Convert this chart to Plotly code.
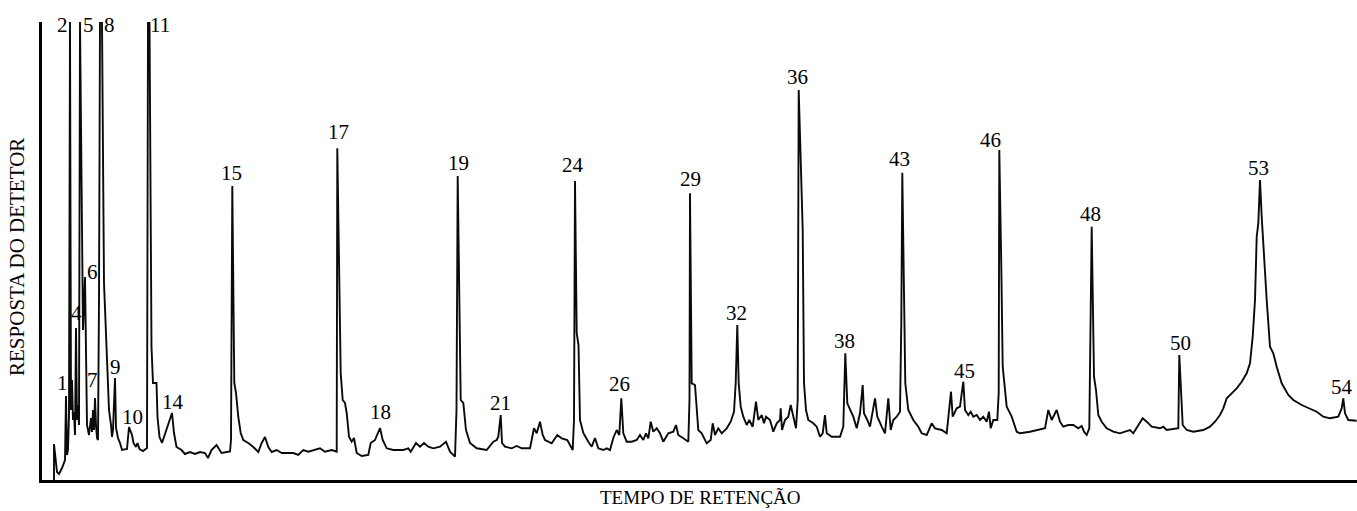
import plotly.graph_objects as go

# Retention time (arbitrary units) and detector response (arbitrary units)
tempo = [
    12, 12, 15, 17, 20, 23, 24, 25, 26, 27, 28, 29, 30, 31, 32, 33, 34, 35, 36, 37,
    38, 40, 41, 43, 44, 45, 47, 49, 50, 51, 52, 53, 54, 55, 56, 57, 58, 60, 62, 64,
    65.5, 67, 69, 70, 71, 73, 74, 76, 78, 80, 85, 87, 90, 91.5, 94, 95.5, 97.5, 101, 105, 106,
    107.5, 109.5, 111, 114.5, 115.5, 117.5, 120, 124.5, 130, 132, 134.5, 139.5, 143, 148, 153, 158,
    163, 166, 169.5, 174.5, 178, 179.5, 188, 189, 190.3, 191.5, 192.3, 194, 196.3, 198.7, 201.3,
    206.3, 211.3, 216.3, 219.7, 223, 226.3, 229.7, 234.7, 239.7, 244.7, 251.3, 256.3, 261.3, 266.3,
    273, 278, 283, 289.7, 294.7, 295.3, 297.3, 298.7, 300.7, 303, 304.7, 307, 309.7, 312, 314.7,
    319.7, 326.3, 328.7, 333, 338, 340.7, 344.7, 351.3, 361.3, 366.3, 368.7, 374, 378, 382, 386.3,
    391.3, 398, 404, 408, 413, 414.5, 415.7, 417.3, 418.7, 421.3, 424, 428, 434.7, 444.7, 451.3,
    454.7, 456.3, 458.7, 460, 463, 469.7, 474.7, 479.7, 488, 492, 494.7, 498, 500.7, 503, 506.3,
    509.7, 515.3, 519.7, 525.3, 530.7, 532, 533, 534.7, 536.5, 538, 541.3, 546.3, 549.7, 553, 556.3,
    561.3, 564.7, 568, 571.3, 574.7, 577.3, 579.3, 581.3, 584.7, 589.7, 594.7, 598, 601.3, 604,
    606.3, 608.7, 611.3, 614.7, 618, 621.3, 626.3, 631.3, 634, 636.3, 641.3, 646.3, 647.5, 648,
    649.7, 653, 656.3, 659.7, 664.7, 668.7, 670.7, 673, 676.3, 679.7, 684.7, 688.7, 692, 693.7,
    695.3, 696.7, 698.7, 701.3, 704.7, 707.3, 710.7, 714, 716.3, 719.7, 722, 724, 728, 731.3, 734.7,
    738, 738.7, 740, 743, 746.3, 748.7, 751.3, 754, 755.7, 756.7, 760.7, 762, 764, 766.3, 771.3,
    774.7, 778, 780.7, 783, 784.7, 789.7, 798, 801.3, 803.3, 805.3, 807.3, 811.3, 814.7, 818, 820.7,
    822, 825.3, 828, 833, 835.3, 839.7, 843, 846.3, 848.7, 851.3, 854.7, 858, 859.3, 860.3, 862.3,
    863.3, 866.3, 871.3, 876.3, 879.7, 884.7, 889.7, 893, 899.7, 904.7, 906.3, 909, 910.7, 914.7,
    918, 921.3, 923, 926.3, 928.7, 931.3, 934.7, 938, 941.3, 944.7, 947, 948.7, 951.3, 955.3, 956.7,
    957.3, 959.3, 960.7, 964.7, 969.7, 974.7, 978, 988, 994.7, 1003, 1006.3, 1009.7, 1014.7, 1018,
    1021.3, 1026.3, 1031.3, 1036.3, 1039.7, 1042, 1044.7, 1047.3, 1049.7, 1050.7, 1052, 1054, 1056.3,
    1059.7, 1064.7, 1071.3, 1078, 1083, 1088, 1091.3, 1096.3, 1100.7, 1104.7, 1109.7, 1118, 1121.3,
    1124.7, 1131.3, 1136.3, 1137.3, 1140.7, 1144.7, 1151.3, 1161.3, 1168, 1173, 1178, 1181.3, 1184.7,
    1189.7, 1194.7, 1199.7, 1204.7, 1208, 1210.7, 1213, 1214.7, 1216.3, 1218, 1219.7, 1222, 1224.7,
    1228, 1231.3, 1234.7, 1239.7, 1246.3, 1251.3, 1259.7, 1268, 1274.7, 1281.3, 1288, 1296.3, 1299.7,
    1301.3, 1303, 1306.3, 1314.7,
]
resposta = [
    0, 36, 8, 6, 12, 20, 84, 25, 30, 65, 458, 70, 100, 60, 68, 45, 152, 60, 75, 55,
    458, 190, 150, 203, 100, 55, 45, 62, 48, 70, 50, 82, 55, 42, 40, 180, 458, 458, 197, 147,
    103, 70, 55, 43, 50, 102, 52, 42, 37, 30, 31, 53, 45, 37, 33, 37, 31, 29, 32, 458,
    458, 133, 97, 97, 63, 43, 37, 50, 67, 47, 33, 30, 26, 28, 26, 28,
    27, 22, 30, 35, 30, 27, 28.5, 40, 294, 180, 97, 87, 63, 47, 40,
    37, 33, 28, 37, 43, 33, 28, 30, 27, 27.3, 27, 25, 30, 28.3,
    30, 31.7, 28.3, 30, 28.3, 331.7, 200, 107, 80, 77, 67, 43.3, 38.3, 42, 27,
    24, 25, 37, 40, 52, 40, 31.7, 30, 30, 31.7, 28.3, 37, 33.3, 37, 33.3,
    31.7, 33.3, 38.3, 28.3, 23.3, 70, 304, 207, 80, 77, 50, 37, 31.7, 30, 38.3,
    40, 43.3, 65, 37, 33.3, 31.7, 34, 31.7, 31.7, 51.7, 46.7, 58.3, 45, 40, 38.3,
    36.7, 45, 41.7, 40, 30, 60, 299, 147, 135, 60, 47, 38.3, 33.3, 42, 31.7,
    30, 31.7, 30, 42, 50, 45, 81.7, 46.7, 38.3, 38.3, 40, 45, 40, 46.7,
    41.7, 58.3, 48.3, 51.7, 46.7, 38.3, 46.7, 48.3, 55, 45, 41.7, 38.3, 80, 286.7,
    96.7, 95, 50, 46.7, 36.7, 40, 56.7, 45, 51.7, 46.7, 51.7, 58.3, 68.3, 96.7,
    155, 96.7, 73.3, 63.3, 55, 60, 53.3, 78.3, 60, 65, 56.7, 63.3, 60, 48.3, 56.7,
    60, 71.7, 50, 60, 63.3, 75, 63.3, 51.7, 80, 390, 250, 97, 70, 60, 56.7,
    53.3, 43.3, 46.7, 65, 46.7, 43.3, 43.3, 53.3, 126.7, 76.7, 71.7, 63.3, 51.7, 66.7, 95,
    66.7, 60, 53.3, 81.7, 63.3, 53.3, 46.7, 81.7, 50, 60, 63.3, 68.3, 156.7, 307.3, 173.3,
    96.7, 70, 60, 53.3, 46.7, 45, 56.7, 51.7, 50, 46.7, 63.3, 88.3, 63.3, 71.7,
    73.3, 98.3, 70, 65, 68.3, 63.3, 65, 60, 63.3, 58.3, 68.3, 51.7, 60, 60, 86.7,
    330, 213.3, 113.3, 73.3, 63.3, 48.3, 46.7, 48.3, 50, 51.7, 70, 60, 70, 58.3,
    53.3, 55, 55, 51.7, 54, 48.3, 45, 51.7, 253.3, 180, 103.3, 90, 65,
    58.3, 51.7, 48.3, 46.7, 48.3, 50, 46.7, 55, 61.7, 58.3, 53.3, 51.7, 53.3,
    50, 50.7, 51.7, 125, 55, 50, 48.3, 50, 53.3, 58.3, 65, 71.7, 81.7,
    86.7, 91.7, 98.3, 106.7, 116.7, 143.3, 180, 243.3, 256.7, 300, 263.3, 220, 180,
    133.3, 126.7, 113.3, 96.7, 85, 80, 75, 71.7, 68.3, 63.3, 61.7, 63.3, 71.7,
    81.7, 66.7, 60, 59.3,
]

# Peak numbers and label positions (tempo, resposta)
picos = ["1", "2", "4", "5", "6", "7", "8", "9", "10", "11", "14", "15", "17", "18", "19",
         "21", "24", "26", "29", "32", "36", "38", "43", "45", "46", "48", "50", "53", "54"]
pico_tempo = [20.7, 20.3, 34.7, 46.3, 50.3, 50.7, 67, 73, 90.7, 118, 130.7, 189, 296.3, 338, 416.3,
              458, 530.7, 577.3, 648, 694.7, 755.3, 802.3, 857.3, 922, 948, 1048, 1138, 1216.3, 1300.3]
pico_resposta = [97, 455, 167, 455, 208.3, 100, 455, 113.3, 63.3, 455, 78.3, 307.3, 347.7, 68.3, 317.3,
                 77.3, 315, 96, 301, 166.7, 402.7, 139.3, 320.7, 109.3, 340, 266, 136.7, 311.7, 93.3]

x_titulo = "TEMPO DE RETENÇÃO"
y_titulo = "RESPOSTA DO DETETOR"

SERIF = "Liberation Serif"

fig = go.Figure()
fig.add_trace(go.Scatter(
    x=tempo, y=resposta, mode="lines",
    line=dict(color="#0a0a0a", width=1.9),
    hoverinfo="skip", showlegend=False,
))

annotations = []
for lab, t, r in zip(picos, pico_tempo, pico_resposta):
    annotations.append(dict(
        x=t, y=r, xref="x", yref="y", text=lab, showarrow=False,
        xanchor="center", yanchor="middle",
        font=dict(family=SERIF, size=21, color="#000"),
    ))
annotations.append(dict(
    x=0.5004, y=-0.038, xref="paper", yref="paper", text=x_titulo, showarrow=False,
    xanchor="center", yanchor="middle",
    font=dict(family=SERIF, size=19, color="#000"),
))
annotations.append(dict(
    x=-0.019, y=0.487, xref="paper", yref="paper", text=y_titulo, showarrow=False,
    xanchor="center", yanchor="middle", textangle=-90,
    font=dict(family=SERIF, size=21, color="#000"),
))

fig.update_layout(
    width=1357, height=511,
    margin=dict(l=42, r=0, t=22, b=31, pad=0),
    paper_bgcolor="white", plot_bgcolor="white",
    annotations=annotations,
    xaxis=dict(range=[0, 1315], showgrid=False, zeroline=False, showticklabels=False,
               ticks="", showline=True, linecolor="#000", linewidth=3, fixedrange=True),
    yaxis=dict(range=[0, 458], showgrid=False, zeroline=False, showticklabels=False,
               ticks="", showline=True, linecolor="#000", linewidth=2.5, fixedrange=True),
)

fig.write_html(
    "out.html",
    config={"displayModeBar": False},
    post_script="document.body.style.margin='0';document.body.style.overflow='hidden';",
)
